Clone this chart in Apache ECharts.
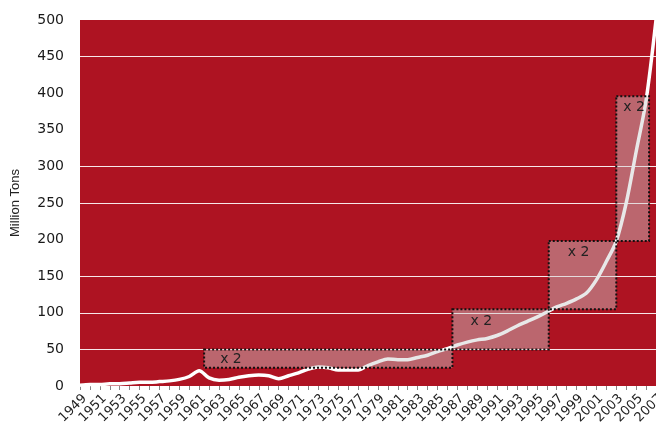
<!DOCTYPE html>
<html>
<head>
<meta charset="utf-8">
<script src="https://cdn.jsdelivr.net/npm/echarts@6/dist/echarts.min.js"></script>
<style>html,body{margin:0;padding:0;background:#fff}#c{width:656px;height:424px}</style>
</head>
<body>
<div id="c"></div>
<script>
const years = [1949,1950,1951,1952,1953,1954,1955,1956,1957,1958,1959,1960,1961,1962,1963,1964,1965,1966,1967,1968,1969,1970,1971,1972,1973,1974,1975,1976,1977,1978,1979,1980,1981,1982,1983,1984,1985,1986,1987,1988,1989,1990,1991,1992,1993,1994,1995,1996,1997,1998,1999,2000,2001,2002,2003,2004,2005,2006,2007];
const values = [1,2,2,3,3,4,5,5,6,7,9,13,21,11,8,9,12,14,15,14,10,14,18,23,26,25,22,22,22,28,33,37,36,36,39,42,47,51,56,60,63,65,69,75,82,88,94,101,108,113,119,127,145,170,198,250,320,390,500];
const gridValues = [50,100,150,250,300,450];
const boxXRanges = [[1961.5,1986.5],[1986.5,1996.2],[1996.2,2003],[2003,2006.3]];
const boxYRanges = [[25,50],[50,105],[105,198],[198,396]];
const boxLabels = ['x 2','x 2','x 2','x 2'];
const boxLabelOffsets = [[12,-1],[14,1],[15,0],[3,0]];

const lineData = years.map((y,i)=>[y, values[i]]);
const areaData = boxXRanges.map((xr,i)=>[
  {xAxis: xr[0], yAxis: boxYRanges[i][1], label:{offset: boxLabelOffsets[i]}, name: boxLabels[i]},
  {xAxis: xr[1], yAxis: boxYRanges[i][0]}
]);
const FONT = 'DejaVu Sans, Verdana, sans-serif';

const chart = echarts.init(document.getElementById('c'));
chart.setOption({
  animation: false,
  grid: {left: 80, right: 0, top: 20, bottom: 38, show: true, backgroundColor: '#AE1322', borderWidth: 0, outerBoundsMode: 'none', containLabel: false},
  xAxis: {
    type: 'value', min: 1949, max: 2007, interval: 1,
    splitLine: {show: false},
    axisLine: {show: false},
    axisTick: {show: true, length: 4, lineStyle: {color: '#888'}},
    axisLabel: {
      rotate: 45, fontSize: 13, color: '#222', margin: 6, fontFamily: FONT,
      verticalAlign: 'top',
      hideOverlap: false,
      formatter: v => ((v - 1949) % 2 === 0 ? String(v) : '')
    }
  },
  yAxis: {
    type: 'value', min: 0, max: 500, interval: 50,
    name: 'Million Tons', nameLocation: 'middle', nameGap: 58, nameRotate: 90,
    nameTextStyle: {fontSize: 13, color: '#222', fontFamily: "'Liberation Sans Narrow', 'Arial Narrow', sans-serif"},
    splitLine: {show: false},
    axisLine: {show: false},
    axisTick: {show: false},
    axisLabel: {fontSize: 14, color: '#1a1a1a', margin: 16, fontFamily: FONT}
  },
  series: [
    {
      type: 'line', data: lineData, z: 1, symbol: 'none', silent: true,
      lineStyle: {opacity: 0},
      markLine: {
        silent: true, symbol: 'none', label: {show: false}, z: 1,
        lineStyle: {color: 'rgba(255,255,255,0.9)', width: 1.2, type: 'solid'},
        data: gridValues.map(v => ({yAxis: v}))
      }
    },
    {
      type: 'line', data: lineData, z: 2, symbol: 'none', smooth: 0.3,
      lineStyle: {color: '#ffffff', width: 3.5}
    },
    {
      type: 'line', data: lineData, z: 3, symbol: 'none', silent: true,
      lineStyle: {opacity: 0},
      markArea: {
        silent: true, z: 4,
        itemStyle: {color: 'rgba(205,205,205,0.45)', borderColor: '#111', borderWidth: 2, borderType: [2,2]},
        label: {show: true, position: 'insideTopLeft', color: '#222', fontSize: 14, fontFamily: FONT},
        data: areaData
      }
    }
  ]
});
</script>
</body>
</html>
